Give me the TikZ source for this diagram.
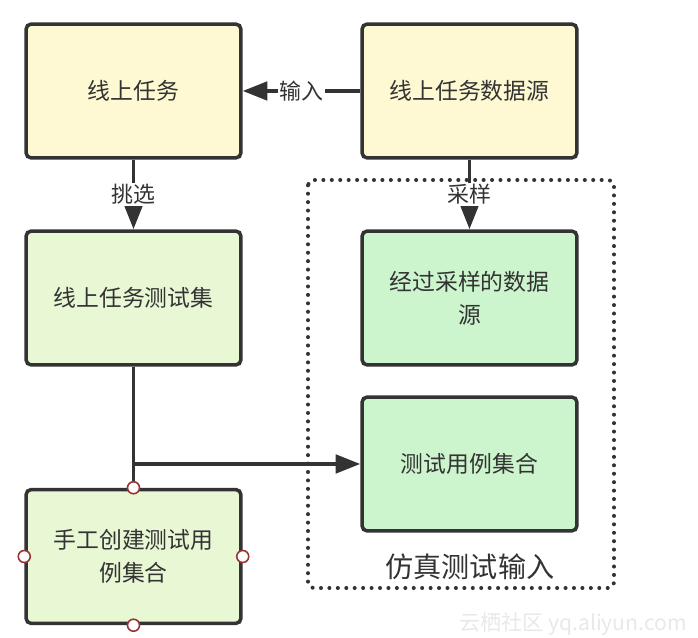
\documentclass[tikz,border=0pt]{standalone}
\usepackage{fontspec}
\setmainfont{Noto Sans CJK SC}
\usepackage{xcolor}
\usetikzlibrary{arrows.meta,positioning}

\begin{document}
\begin{tikzpicture}[x=0.02cm, y=-0.02cm]
    % Define colors
    \definecolor{textcolor}{RGB}{51,51,51}
    \definecolor{taskcolor}{RGB}{255,249,211}
    \definecolor{setcolor}{RGB}{232,248,213}
    \definecolor{simcolor}{RGB}{205,245,205}
    \definecolor{handlecolor}{RGB}{153,51,51}

    \tikzset{
        box/.style={draw=textcolor, line width=2pt, rounded corners=3pt,
            minimum width=4.3cm, minimum height=2.68cm, align=center,
            text=textcolor, font=\fontsize{13}{19}\selectfont},
        link/.style={draw=textcolor, line width=2pt},
        flow/.style={link, -{Triangle[length=14pt,width=10.5pt]}},
        tag/.style={fill=white, text=textcolor, inner sep=1pt,
            font=\fontsize{12.5}{15}\selectfont},
        handle/.style={circle, draw=handlecolor, fill=white, line width=0.9pt,
            minimum size=0.24cm, inner sep=0pt}
    }

    % Fix the page size
    \useasboundingbox (0,0) rectangle (698,638);

    % Simulation input area
    \draw[textcolor, line width=2.3pt, dash pattern=on 0pt off 4.8pt, line cap=round,
        rounded corners=3pt] (308,180) rectangle (614,588);
    \node[text=textcolor, font=\fontsize{16}{19}\selectfont] (siminput) at (470,567) {仿真测试输入};

    % Boxes
    \node[box, fill=taskcolor] (task) at (133.5,91) {线上任务};
    \node[box, fill=taskcolor] (source) at (469.5,91) {线上任务数据源};
    \node[box, fill=setcolor] (testset) at (133.5,298) {线上任务测试集};
    \node[box, fill=simcolor] (sampled) at (469.5,298) {经过采样的数据\\源};
    \node[box, fill=simcolor] (cases) at (469.5,464) {测试用例集合};
    \node[box, fill=setcolor] (manual) at (133.5,556.5) {手工创建测试用\\例集合};

    % Connectors
    \draw[flow] (source) -- node[tag] (input) {输入} (task);
    \draw[flow] (task) -- node[tag, pos=0.5] (pick) {挑选} (testset);
    \draw[flow] (source) -- node[tag, pos=0.5] (sample) {采样} (sampled);
    \coordinate (branch) at (133.5,464);
    \draw[link] (testset) -- (manual);
    \draw[flow] (branch) -- (cases);

    % Selection handles
    \foreach \side in {north,south,east,west}
        \node[handle] (handle-\side) at (manual.\side) {};

    % Watermark
    \node[text=gray!18, font=\fontsize{12}{14}\selectfont] (mark) at (573,624) {云栖社区 yq.aliyun.com};
\end{tikzpicture}
\end{document}
